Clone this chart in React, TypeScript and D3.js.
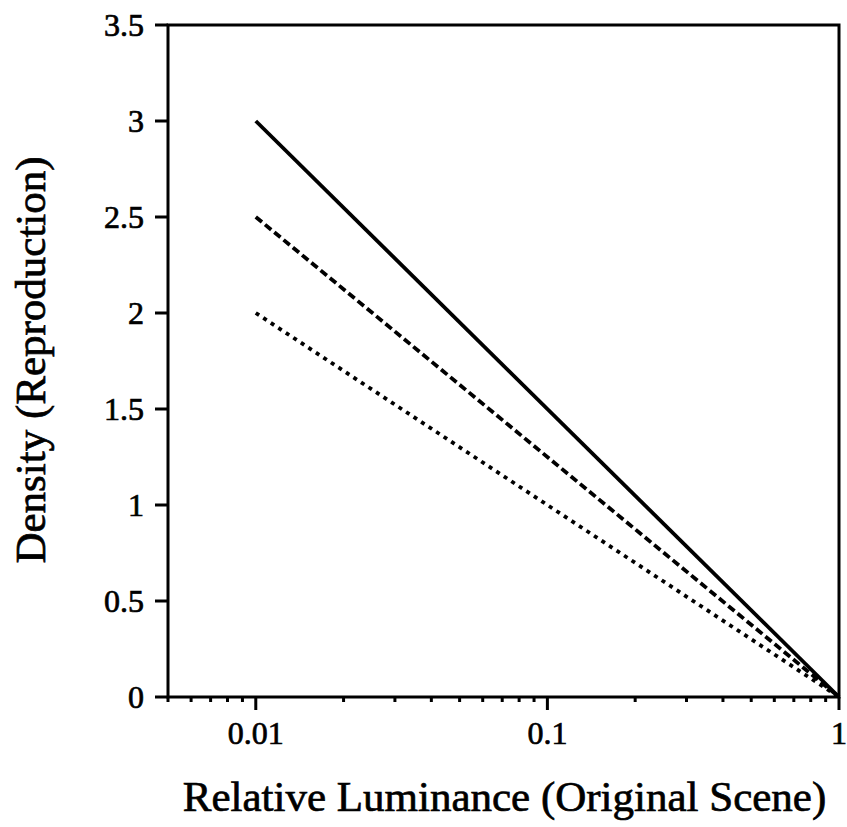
import React from "react";
import * as d3 from "d3";

const xStart = [0.01, 0.01, 0.01];
const xEnd = [1, 1, 1];
const yStart = [3, 2.5, 2];
const yEnd = [0, 0, 0];
const seriesDash = ["none", "8 4", "4 5"];
const xMajorTicks = [0.01, 0.1, 1];
const xTickLabels = ["0.01", "0.1", "1"];
const yTicks = [0, 0.5, 1, 1.5, 2, 2.5, 3, 3.5];
const yTickLabels = ["0", "0.5", "1", "1.5", "2", "2.5", "3", "3.5"];
const xMinorTicks = [0.005, 0.006, 0.007, 0.008, 0.009, 0.02, 0.03, 0.04, 0.05, 0.06, 0.07, 0.08, 0.09, 0.2, 0.3, 0.4, 0.5, 0.6, 0.7, 0.8, 0.9];

const W = 847, H = 827;
const left = 168, right = 839, top = 25, bottom = 697;
const FONT = "'Liberation Serif', 'DejaVu Serif', serif";

export default function App() {
  const x = d3.scaleLog().domain([0.005, 1]).range([left, right]);
  const y = d3.scaleLinear().domain([0, 3.5]).range([bottom, top]);
  const line = d3.line<[number, number]>().x(d => x(d[0])).y(d => y(d[1]));
  const textStyle = { fontFamily: FONT, stroke: "#000", strokeWidth: 0.7 } as const;
  return (
    <svg width={W} height={H} style={{ position: "absolute", left: 0, top: 0, background: "#fff" }}>
      {xStart.map((xs, i) => (
        <path key={i} d={line([[xs, yStart[i]], [xEnd[i], yEnd[i]]]) || ""} fill="none" stroke="#000" strokeWidth={3.8} strokeDasharray={seriesDash[i]} />
      ))}
      <rect x={left} y={top} width={right - left} height={bottom - top} fill="none" stroke="#000" strokeWidth={3} />
      {yTicks.map((t, i) => (
        <g key={i}>
          <line x1={left - 13} x2={left} y1={y(t)} y2={y(t)} stroke="#000" strokeWidth={3} />
          <text x={left - 24} y={y(t)} dy="0.35em" textAnchor="end" fontSize={32} style={textStyle}>{yTickLabels[i]}</text>
        </g>
      ))}
      {xMajorTicks.map((t, i) => (
        <g key={i}>
          <line x1={x(t)} x2={x(t)} y1={bottom} y2={bottom + 13} stroke="#000" strokeWidth={3} />
          <text x={x(t)} y={bottom + 47} textAnchor="middle" fontSize={32} style={textStyle}>{xTickLabels[i]}</text>
        </g>
      ))}
      {xMinorTicks.map((t, i) => (
        <line key={i} x1={x(t)} x2={x(t)} y1={bottom} y2={bottom + 5} stroke="#000" strokeWidth={3} />
      ))}
      <text x={(left + right) / 2 + 1} y={811} textAnchor="middle" fontSize={43} style={textStyle}>Relative Luminance (Original Scene)</text>
      <text transform={`translate(45, 360) rotate(-90)`} textAnchor="middle" fontSize={43} style={textStyle}>Density (Reproduction)</text>
    </svg>
  );
}
